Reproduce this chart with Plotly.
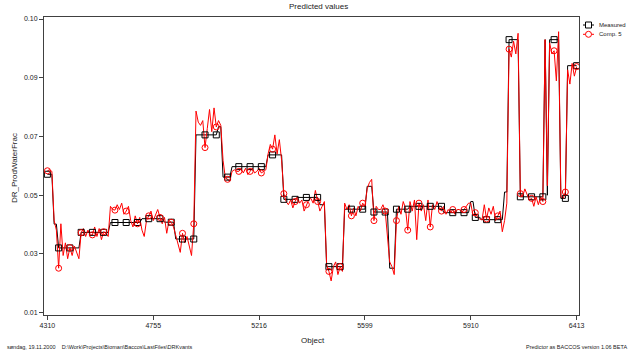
import plotly.graph_objects as go

# ---- data (sequential objects) ----
predicted = [
    0.0567, 0.057, 0.0565, 0.041, 0.038, 0.026, 0.040, 0.030, 0.034, 0.029,
    0.0325, 0.030, 0.033, 0.031, 0.029, 0.0372, 0.0385, 0.036, 0.038, 0.0365,
    0.0365, 0.039, 0.036, 0.0385, 0.035, 0.0375, 0.037, 0.036, 0.0455, 0.0445,
    0.0443, 0.046, 0.0445, 0.0465, 0.043, 0.044, 0.0455, 0.041, 0.039, 0.0425,
    0.040, 0.042, 0.038, 0.036, 0.041, 0.0425, 0.044, 0.041, 0.043, 0.0445,
    0.042, 0.040, 0.042, 0.037, 0.041, 0.0405, 0.039, 0.036, 0.0335, 0.031,
    0.037, 0.034, 0.036, 0.0325, 0.030, 0.040, 0.0755, 0.072, 0.071, 0.0725,
    0.064, 0.070, 0.076, 0.069, 0.0765, 0.0705, 0.0725, 0.071, 0.060, 0.0545,
    0.054, 0.0535, 0.0565, 0.057, 0.0565, 0.0565, 0.0575, 0.056, 0.0575, 0.0555,
    0.0565, 0.0575, 0.056, 0.0565, 0.0575, 0.056, 0.0565, 0.057, 0.062, 0.065,
    0.0635, 0.068, 0.062, 0.0665, 0.060, 0.0495, 0.047, 0.046, 0.0475, 0.045,
    0.047, 0.0485, 0.0465, 0.0475, 0.044, 0.046, 0.0475, 0.048, 0.0465, 0.0505,
    0.047, 0.044, 0.0455, 0.047, 0.027, 0.025, 0.022, 0.0265, 0.028, 0.024,
    0.0265, 0.025, 0.0465, 0.0445, 0.046, 0.0425, 0.045, 0.0425, 0.0455, 0.044,
    0.0465, 0.0455, 0.051, 0.053, 0.054, 0.041, 0.0455, 0.0445, 0.0445, 0.046,
    0.044, 0.036, 0.028, 0.0265, 0.024, 0.041, 0.0455, 0.043, 0.047, 0.045,
    0.038, 0.047, 0.044, 0.0475, 0.035, 0.0465, 0.044, 0.046, 0.041, 0.0475,
    0.039, 0.046, 0.0445, 0.047, 0.045, 0.044, 0.0455, 0.043, 0.0445, 0.0435,
    0.0445, 0.043, 0.0445, 0.0445, 0.0435, 0.0445, 0.0455, 0.0465, 0.0465, 0.0425,
    0.0435, 0.042, 0.0415, 0.0412, 0.046, 0.0415, 0.045, 0.043, 0.0455, 0.041,
    0.0425, 0.044, 0.0375, 0.041, 0.0465, 0.095, 0.0925, 0.0975, 0.0935, 0.100,
    0.0495, 0.0485, 0.051, 0.049, 0.0475, 0.048, 0.0455, 0.0485, 0.046, 0.0485,
    0.047, 0.098, 0.052, 0.097, 0.0935, 0.0945, 0.085, 0.1005, 0.0485, 0.048,
    0.050, 0.0885, 0.084, 0.0905, 0.0865, 0.0895,
]

measured = (
    [0.0556] * 3 + [0.0399] * 2 + [0.0324] * 10 + [0.0373] * 13 +
    [0.0404] * 14 + [0.0416] * 10 + [0.0405] * 5 + [0.0352] * 9 +
    [0.068] * 10 + [0.0706] * 2 + [0.0547] * 4 + [0.058] * 16 +
    [0.0617] * 7 + [0.0477] * 6 + [0.0483] * 10 + [0.046] * 3 +
    [0.0265] * 8 + [0.0446] * 10 + [0.0518] * 3 + [0.0437] * 7 +
    [0.026] * 3 + [0.0446] * 6 + [0.0455] * 15 + [0.0435] * 12 +
    [0.047] * 2 + [0.042] * 3 + [0.0413] * 10 + [0.050] * 2 +
    [0.098] * 5 + [0.0485] * 11 + [0.098] * 1 + [0.049] * 1 +
    [0.098] * 5 + [0.048] * 3 + [0.0898] * 5
)

object_labels = ["4310", "4755", "5216", "5599", "5910", "6413"]
y_tick_values = [0.012, 0.0305, 0.049, 0.0675, 0.086, 0.1045]
y_tick_labels = ["0.01", "0.03", "0.05", "0.07", "0.09", "0.10"]
series_names = ["Measured", "Comp. 5"]

n = len(predicted)
idx = list(range(n))
step = (n - 1) / (len(object_labels) - 1)
x_tick_values = [k * step for k in range(len(object_labels))]

FONT = "Liberation Sans, Arial, sans-serif"
TXT = "#222222"
AX = "#404040"
RED = "#ff0000"

fig = go.Figure()
fig.add_trace(go.Scatter(x=idx, y=measured, mode="lines", name=series_names[0],
                         line=dict(color="black", width=1), showlegend=False, hoverinfo="skip"))
fig.add_trace(go.Scatter(x=idx, y=predicted, mode="lines", name=series_names[1],
                         line=dict(color=RED, width=1), showlegend=False, hoverinfo="skip"))
fig.add_trace(go.Scatter(x=idx[::5], y=measured[::5], mode="markers",
                         marker=dict(symbol="square-open", size=6, color="black", line=dict(width=1)),
                         showlegend=False))
fig.add_trace(go.Scatter(x=idx[::5], y=predicted[::5], mode="markers",
                         marker=dict(symbol="circle-open", size=6, color=RED, line=dict(width=1)),
                         showlegend=False))

L, R, T, B = 44, 51, 17, 37
W, H = 630, 352
pw, ph = W - L - R, H - T - B


def px(x):
    return (x - L) / pw


def py(y):
    return 1 - (y - T) / ph


# manual legend (drawn in paper coordinates, outside the plot area)
shapes = []
annotations = []
for k, (name, col, kind) in enumerate(zip(series_names, ["black", RED], ["rect", "circle"])):
    yc = 25 + k * 9.3
    shapes.append(dict(type="line", xref="paper", yref="paper",
                       x0=px(583), x1=px(594), y0=py(yc), y1=py(yc),
                       line=dict(color=col, width=1)))
    shapes.append(dict(type=kind, xref="paper", yref="paper",
                       x0=px(585.5), x1=px(591.5), y0=py(yc - 3), y1=py(yc + 3),
                       line=dict(color=col, width=1), fillcolor="white"))
    annotations.append(dict(text=name, xref="paper", yref="paper", x=px(597), y=py(yc),
                            xanchor="left", yanchor="middle", showarrow=False,
                            font=dict(size=6, family=FONT, color=TXT)))

annotations += [
    dict(text="Predicted values", xref="paper", yref="paper", x=px(318), y=py(7),
         xanchor="center", yanchor="middle",
         showarrow=False, font=dict(size=8, family=FONT, color=TXT)),
    dict(text="Object", xref="paper", yref="paper", x=px(313), y=py(340),
         xanchor="center", yanchor="middle",
         showarrow=False, font=dict(size=8, family=FONT, color=TXT)),
    dict(text="DR_ProdWaterFrac", xref="paper", yref="paper", x=px(14), y=py(168),
         xanchor="center", yanchor="middle",
         textangle=-90, showarrow=False, font=dict(size=8, family=FONT, color=TXT)),
    dict(text="søndag, 19.11.2000    D:\\Work\\Projects\\Bioman\\Baccos\\LastFiles\\DRKvants",
         xref="paper", yref="paper", x=px(5), y=py(347), xanchor="left", yanchor="middle",
         showarrow=False, font=dict(size=5.5, family=FONT, color=TXT)),
    dict(text="Predictor as BACCOS version 1.06 BETA", xref="paper", yref="paper",
         x=px(629), y=py(347), xanchor="right", yanchor="middle",
         showarrow=False, font=dict(size=5.5, family=FONT, color=TXT)),
]

fig.update_layout(
    width=W, height=H,
    margin=dict(l=L, r=R, t=T, b=B, autoexpand=False),
    paper_bgcolor="white", plot_bgcolor="white",
    font=dict(family=FONT, size=7, color=TXT),
    showlegend=False,
    hovermode=False,
    xaxis=dict(range=[-1.5, n + 0.05], tickvals=x_tick_values, ticktext=object_labels,
               showgrid=False, zeroline=False, showline=True, mirror=True,
               linecolor=AX, linewidth=1, ticks="outside", ticklen=4, tickcolor=AX,
               tickfont=dict(size=7, family=FONT, color=TXT)),
    yaxis=dict(range=[0.01127, 0.10513], tickvals=y_tick_values, ticktext=y_tick_labels,
               showgrid=False, zeroline=False, showline=True, mirror=True,
               linecolor=AX, linewidth=1, ticks="outside", ticklen=4, tickcolor=AX,
               tickfont=dict(size=7, family=FONT, color=TXT)),
    shapes=shapes,
    annotations=annotations,
)

fig.write_html("out.html", config={"displayModeBar": False},
               post_script="document.body.style.margin='0';document.body.style.overflow='hidden';")
